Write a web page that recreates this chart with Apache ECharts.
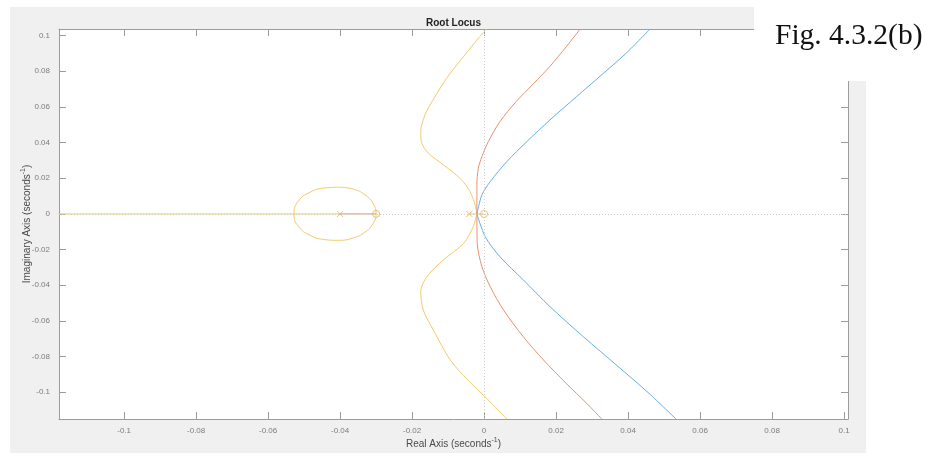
<!DOCTYPE html>
<html>
<head>
<meta charset="utf-8">
<title>Root Locus</title>
<script src="https://cdn.jsdelivr.net/npm/echarts@6/dist/echarts.min.js"></script>
<style>
  html, body { margin: 0; padding: 0; background: #ffffff; }
  #chart { width: 928px; height: 459px; }
</style>
</head>
<body>
<div id="chart"></div>
<script>
// Axis limits and ticks
const xLimits = [-0.1181, 0.1011];
const yLimits = [-0.115, 0.1037];
const xTickValues = [-0.1, -0.08, -0.06, -0.04, -0.02, 0, 0.02, 0.04, 0.06, 0.08, 0.1];
const xTickLabels = ['-0.1', '-0.08', '-0.06', '-0.04', '-0.02', '0', '0.02', '0.04', '0.06', '0.08', '0.1'];
const yTickValues = [-0.1, -0.08, -0.06, -0.04, -0.02, 0, 0.02, 0.04, 0.06, 0.08, 0.1];
const yTickLabels = ['-0.1', '-0.08', '-0.06', '-0.04', '-0.02', '0', '0.02', '0.04', '0.06', '0.08', '0.1'];

// Open-loop poles (x) and zeros (o)
const poles = [[-0.04, 0], [-0.0041, 0]];
const zeros = [[-0.03, 0], [0, 0]];

// Real-axis locus segments
const realYellowLeft = [[-1, 0], [-0.04, 0]];
const realRed = [[-0.04, 0], [-0.03, 0]];
const realYellowNear = [[-0.0041, 0], [0, 0]];

// Closed loop between -0.053 and the zero at -0.03 (traced from its top)
const loopYellow = [
  [-0.0405, 0.0150], [-0.0363, 0.0139], [-0.0331, 0.0107], [-0.0309, 0.0060], [-0.0300, 0],
  [-0.0309, -0.0056], [-0.0331, -0.0102], [-0.0363, -0.0134], [-0.0405, -0.0148],
  [-0.0446, -0.0143], [-0.0483, -0.0120], [-0.0516, -0.0070], [-0.0528, 0],
  [-0.0516, 0.0072], [-0.0483, 0.0122], [-0.0446, 0.0145], [-0.0405, 0.0150]
];

// Complex branches leaving the breakaway point near the origin
const yellowUpper = [
  [-0.0020, 0], [-0.0025, 0.0050], [-0.0039, 0.0125], [-0.0067, 0.0200], [-0.0113, 0.0275],
  [-0.0155, 0.0341], [-0.0173, 0.0397], [-0.0176, 0.0462], [-0.0164, 0.0556],
  [-0.0139, 0.0649], [-0.0104, 0.0761], [-0.0066, 0.0860], [-0.0026, 0.0960], [0.0006, 0.1037]
];
const yellowLower = [
  [-0.0020, 0], [-0.0030, -0.0071], [-0.0057, -0.0165], [-0.0113, -0.0258], [-0.0159, -0.0352],
  [-0.0176, -0.0436], [-0.0169, -0.0539], [-0.0141, -0.0651], [-0.0094, -0.0819],
  [-0.0045, -0.0932], [0.0007, -0.1034], [0.0063, -0.1150]
];
const redUpper = [
  [-0.0020, 0], [-0.0020, 0.0163], [-0.0016, 0.0256], [-0.0006, 0.0322], [0.0012, 0.0406],
  [0.0044, 0.0518], [0.0089, 0.0630], [0.0137, 0.0730], [0.0184, 0.0830], [0.0228, 0.0937],
  [0.0267, 0.1037]
];
const redLower = [
  [-0.0020, 0], [-0.0019, -0.0165], [-0.0006, -0.0296], [0.0017, -0.0408], [0.0054, -0.0539],
  [0.0109, -0.0689], [0.0165, -0.0819], [0.0228, -0.0950], [0.0285, -0.1062], [0.0327, -0.1150]
];
const blueUpper = [
  [-0.0020, 0], [-0.0006, 0.0107], [0.0017, 0.0181], [0.0063, 0.0293],
  [0.0119, 0.0406], [0.0183, 0.0527], [0.0257, 0.0658], [0.0322, 0.0772], [0.0394, 0.0900],
  [0.0461, 0.1037]
];
const blueLower = [
  [-0.0020, 0], [0.0003, -0.0127], [0.0044, -0.0240], [0.0109, -0.0370],
  [0.0183, -0.0520], [0.0276, -0.0689], [0.0369, -0.0850], [0.0458, -0.1006], [0.0533, -0.1150]
];

const BLUE = '#64aee2';
const RED = '#e8916d';
const YELLOW = '#f3ca68';
const MARK = '#ebb24e';
const AXIS = '#9c9c9c';
const LABEL = '#7c7c7c';
const TICK_FONT = '"Liberation Sans", Arial, sans-serif';

const gridBox = { left: 59, top: 29, width: 789, height: 390 };

function labelFor(values, labels) {
  return function (v) {
    let best = 0;
    for (let i = 1; i < values.length; i++) {
      if (Math.abs(values[i] - v) < Math.abs(values[best] - v)) best = i;
    }
    return labels[best];
  };
}

function curve(data, color, smooth) {
  return {
    type: 'line', data: data, showSymbol: false, symbol: 'none',
    smooth: smooth, lineStyle: { color: color, width: 1 },
    xAxisIndex: 0, yAxisIndex: 0, silent: true, animation: false, z: 3
  };
}

const nameRich = {
  n: { fontSize: 10, color: '#4a4a4a', fontFamily: 'Liberation Sans', lineHeight: 14 },
  s: { fontSize: 7, color: '#4a4a4a', fontFamily: 'Liberation Sans', verticalAlign: 'top', lineHeight: 7 }
};

function xAxisDef(pos, showLabels) {
  return {
    type: 'value', position: pos, min: xLimits[0], max: xLimits[1],
    axisLine: { show: true, onZero: false, lineStyle: { color: AXIS, width: 1 } },
    axisTick: { show: true, inside: true, length: 7, customValues: xTickValues, lineStyle: { color: AXIS } },
    axisLabel: {
      show: showLabels, customValues: xTickValues, formatter: labelFor(xTickValues, xTickLabels),
      color: LABEL, fontSize: 8, fontFamily: TICK_FONT, margin: 8
    },
    splitLine: { show: false },
    name: showLabels ? '{n|Real Axis (seconds}{s|-1}{n|)}' : '',
    nameLocation: 'middle', nameGap: 18, nameMoveOverlap: false,
    nameTextStyle: { rich: nameRich }
  };
}

function yAxisDef(pos, showLabels) {
  return {
    type: 'value', position: pos, min: yLimits[0], max: yLimits[1],
    axisLine: { show: true, onZero: false, lineStyle: { color: AXIS, width: 1 } },
    axisTick: { show: true, inside: true, length: 7, customValues: yTickValues, lineStyle: { color: AXIS } },
    axisLabel: {
      show: showLabels, customValues: yTickValues, formatter: labelFor(yTickValues, yTickLabels),
      color: LABEL, fontSize: 8, fontFamily: TICK_FONT, margin: 9
    },
    splitLine: { show: false },
    name: showLabels ? '{n|Imaginary Axis (seconds}{s|-1}{n|)}' : '',
    nameLocation: 'middle', nameGap: 25, nameRotate: 90, nameMoveOverlap: false,
    nameTextStyle: { rich: nameRich }
  };
}

const chart = echarts.init(document.getElementById('chart'), null, { renderer: 'canvas' });

chart.setOption({
  animation: false,
  backgroundColor: '#ffffff',
  grid: Object.assign({ show: true, backgroundColor: '#ffffff', borderWidth: 0, containLabel: false }, gridBox),
  xAxis: [xAxisDef('bottom', true), xAxisDef('top', false)],
  yAxis: [yAxisDef('left', true), yAxisDef('right', false)],
  graphic: [
    { type: 'rect', z: -10, silent: true, shape: { x: 10, y: 7, width: 856, height: 446 }, style: { fill: '#f0f0f0' } },
    { type: 'rect', z: 100, silent: true, shape: { x: 754, y: 7, width: 112, height: 74 }, style: { fill: '#ffffff' } },
    { type: 'text', z: 101, silent: true, x: 775, y: 36,
      style: { text: 'Fig. 4.3.2(b)', font: '29.5px "Liberation Serif", "Times New Roman", serif', fill: '#111111', textAlign: 'left', textVerticalAlign: 'middle' } },
    { type: 'text', z: 101, silent: true, x: 453.5, y: 23,
      style: { text: 'Root Locus', font: 'bold 10px "Liberation Sans", Arial, sans-serif', fill: '#222222', textAlign: 'center', textVerticalAlign: 'middle' } }
  ],
  series: [
    {
      type: 'line', data: [], xAxisIndex: 0, yAxisIndex: 0, silent: true, z: 1,
      markLine: {
        silent: true, symbol: 'none', animation: false,
        label: { show: false },
        lineStyle: { color: '#cccccc', type: [1, 2], width: 1 },
        data: [{ yAxis: 0 }, { xAxis: 0 }]
      }
    },
    curve(realYellowLeft, YELLOW, false),
    curve(loopYellow, YELLOW, 0.5),
    curve(realRed, RED, false),
    curve(realYellowNear, YELLOW, false),
    curve(yellowUpper, YELLOW, 0.3),
    curve(yellowLower, YELLOW, 0.3),
    curve(redUpper, RED, 0.3),
    curve(redLower, RED, 0.3),
    curve(blueUpper, BLUE, 0.3),
    curve(blueLower, BLUE, 0.3),
    {
      type: 'scatter', data: poles, xAxisIndex: 0, yAxisIndex: 0, silent: true, z: 5,
      symbol: 'path://M0,0L10,10M10,0L0,10', symbolSize: 6,
      itemStyle: { color: 'none', borderColor: MARK, borderWidth: 1 }
    },
    {
      type: 'scatter', data: zeros, xAxisIndex: 0, yAxisIndex: 0, silent: true, z: 5,
      symbol: 'circle', symbolSize: 7,
      itemStyle: { color: 'none', borderColor: MARK, borderWidth: 1 }
    }
  ]
});
</script>
</body>
</html>
